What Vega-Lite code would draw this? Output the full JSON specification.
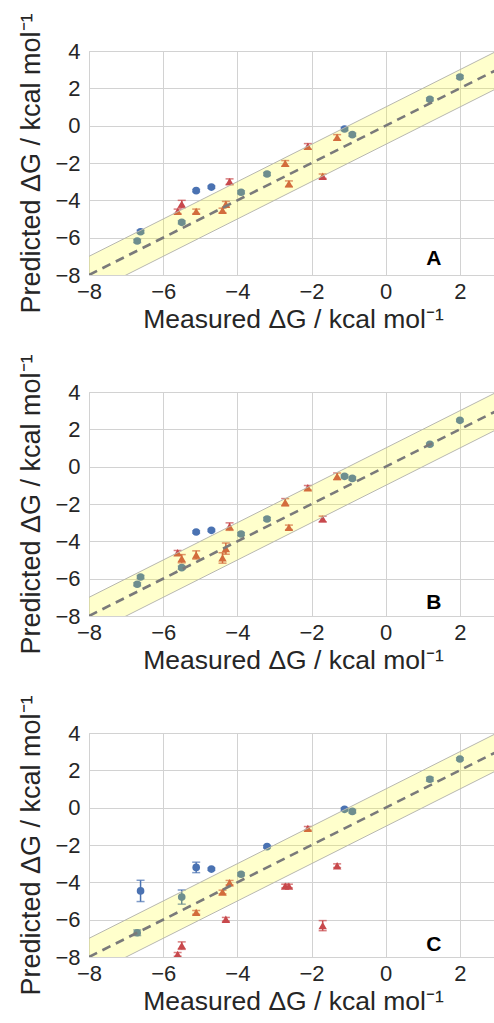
{
  "$schema": "https://vega.github.io/schema/vega-lite/v6.json",
  "background": "white",
  "padding": {"left": 17, "top": 12, "right": 0, "bottom": 2},
  "bounds": "flush",
  "spacing": 117,
  "config": {
    "font": "Liberation Sans",
    "view": {"stroke": "#cfcfcf", "strokeWidth": 1},
    "axis": {
      "grid": true, "gridColor": "#d2d2d2", "gridWidth": 1,
      "domain": false, "ticks": false, "labelOverlap": false, "labelFlush": false, "labelBound": false,
      "labelFontSize": 22, "labelColor": "#262626", "labelFont": "Liberation Sans",
      "titleFontWeight": "normal", "titleColor": "#262626", "titleFont": "Liberation Sans"
    },
    "axisX": {"labelPadding": 6, "titlePadding": 4, "titleFontSize": 26.5, "tickCount": 6},
    "axisY": {"labelPadding": 9, "titlePadding": 9, "titleFontSize": 27, "tickCount": 7}
  },
  "datasets": {
    "band": [
      {"x": -8, "lo": -9, "mid": -8, "hi": -7},
      {"x": 3, "lo": 2, "mid": 3, "hi": 4}
    ],
    "pts": [
      {"panel": "A", "s": "blue", "x": -6.70, "y": -6.18, "e": 0.08},
      {"panel": "A", "s": "blue", "x": -6.61, "y": -5.68, "e": 0.08},
      {"panel": "A", "s": "blue", "x": -5.50, "y": -5.18, "e": 0.08},
      {"panel": "A", "s": "blue", "x": -5.11, "y": -3.48, "e": 0.06},
      {"panel": "A", "s": "blue", "x": -4.70, "y": -3.29, "e": 0.06},
      {"panel": "A", "s": "blue", "x": -3.90, "y": -3.57, "e": 0.08},
      {"panel": "A", "s": "blue", "x": -3.20, "y": -2.59, "e": 0.08},
      {"panel": "A", "s": "blue", "x": -1.11, "y": -0.18, "e": 0.08},
      {"panel": "A", "s": "blue", "x": -0.90, "y": -0.48, "e": 0.08},
      {"panel": "A", "s": "blue", "x": 1.19, "y": 1.41, "e": 0.08},
      {"panel": "A", "s": "blue", "x": 2.00, "y": 2.61, "e": 0.08},
      {"panel": "A", "s": "red", "x": -5.61, "y": -4.59, "e": 0.12},
      {"panel": "A", "s": "red", "x": -5.50, "y": -4.20, "e": 0.2},
      {"panel": "A", "s": "red", "x": -5.11, "y": -4.59, "e": 0.12},
      {"panel": "A", "s": "red", "x": -4.40, "y": -4.54, "e": 0.12},
      {"panel": "A", "s": "red", "x": -4.31, "y": -4.21, "e": 0.15},
      {"panel": "A", "s": "red", "x": -4.21, "y": -3.00, "e": 0.15},
      {"panel": "A", "s": "red", "x": -2.71, "y": -2.02, "e": 0.15},
      {"panel": "A", "s": "red", "x": -2.61, "y": -3.11, "e": 0.15},
      {"panel": "A", "s": "red", "x": -2.10, "y": -1.11, "e": 0.15},
      {"panel": "A", "s": "red", "x": -1.70, "y": -2.71, "e": 0.12},
      {"panel": "A", "s": "red", "x": -1.31, "y": -0.63, "e": 0.15},
      {"panel": "B", "s": "blue", "x": -6.70, "y": -6.30, "e": 0.08},
      {"panel": "B", "s": "blue", "x": -6.61, "y": -5.91, "e": 0.08},
      {"panel": "B", "s": "blue", "x": -5.50, "y": -5.41, "e": 0.08},
      {"panel": "B", "s": "blue", "x": -5.11, "y": -3.50, "e": 0.06},
      {"panel": "B", "s": "blue", "x": -4.70, "y": -3.41, "e": 0.06},
      {"panel": "B", "s": "blue", "x": -3.90, "y": -3.61, "e": 0.08},
      {"panel": "B", "s": "blue", "x": -3.20, "y": -2.80, "e": 0.08},
      {"panel": "B", "s": "blue", "x": -1.11, "y": -0.52, "e": 0.08},
      {"panel": "B", "s": "blue", "x": -0.90, "y": -0.63, "e": 0.08},
      {"panel": "B", "s": "blue", "x": 1.19, "y": 1.20, "e": 0.06},
      {"panel": "B", "s": "blue", "x": 2.00, "y": 2.48, "e": 0.06},
      {"panel": "B", "s": "red", "x": -5.61, "y": -4.61, "e": 0.12},
      {"panel": "B", "s": "red", "x": -5.50, "y": -4.93, "e": 0.22},
      {"panel": "B", "s": "red", "x": -5.11, "y": -4.73, "e": 0.22},
      {"panel": "B", "s": "red", "x": -4.40, "y": -4.89, "e": 0.28},
      {"panel": "B", "s": "red", "x": -4.31, "y": -4.39, "e": 0.3},
      {"panel": "B", "s": "red", "x": -4.21, "y": -3.21, "e": 0.2},
      {"panel": "B", "s": "red", "x": -2.71, "y": -1.91, "e": 0.2},
      {"panel": "B", "s": "red", "x": -2.61, "y": -3.25, "e": 0.12},
      {"panel": "B", "s": "red", "x": -2.10, "y": -1.13, "e": 0.12},
      {"panel": "B", "s": "red", "x": -1.70, "y": -2.80, "e": 0.15},
      {"panel": "B", "s": "red", "x": -1.31, "y": -0.52, "e": 0.18},
      {"panel": "C", "s": "blue", "x": -6.70, "y": -6.70, "e": 0.15},
      {"panel": "C", "s": "blue", "x": -6.61, "y": -4.46, "e": 0.57},
      {"panel": "C", "s": "blue", "x": -5.50, "y": -4.79, "e": 0.38},
      {"panel": "C", "s": "blue", "x": -5.11, "y": -3.20, "e": 0.28},
      {"panel": "C", "s": "blue", "x": -4.70, "y": -3.29, "e": 0.06},
      {"panel": "C", "s": "blue", "x": -3.90, "y": -3.57, "e": 0.08},
      {"panel": "C", "s": "blue", "x": -3.20, "y": -2.09, "e": 0.06},
      {"panel": "C", "s": "blue", "x": -1.11, "y": -0.09, "e": 0.08},
      {"panel": "C", "s": "blue", "x": -0.90, "y": -0.20, "e": 0.08},
      {"panel": "C", "s": "blue", "x": 1.19, "y": 1.52, "e": 0.1},
      {"panel": "C", "s": "blue", "x": 2.00, "y": 2.61, "e": 0.06},
      {"panel": "C", "s": "red", "x": -5.61, "y": -7.86, "e": 0.1},
      {"panel": "C", "s": "red", "x": -5.50, "y": -7.39, "e": 0.2},
      {"panel": "C", "s": "red", "x": -5.11, "y": -5.61, "e": 0.1},
      {"panel": "C", "s": "red", "x": -4.40, "y": -4.52, "e": 0.1},
      {"panel": "C", "s": "red", "x": -4.31, "y": -5.98, "e": 0.1},
      {"panel": "C", "s": "red", "x": -4.21, "y": -4.02, "e": 0.12},
      {"panel": "C", "s": "red", "x": -2.71, "y": -4.20, "e": 0.1},
      {"panel": "C", "s": "red", "x": -2.61, "y": -4.20, "e": 0.1},
      {"panel": "C", "s": "red", "x": -2.10, "y": -1.11, "e": 0.1},
      {"panel": "C", "s": "red", "x": -1.70, "y": -6.32, "e": 0.27},
      {"panel": "C", "s": "red", "x": -1.31, "y": -3.11, "e": 0.1}
    ]
  },
  "vconcat": [
    {
      "width": 408, "height": 224,
      "layer": [
        {
          "data": {"name": "pts"},
          "transform": [{"filter": "datum.panel === 'A'"}],
          "mark": {"type": "errorbar", "ticks": {"size": 8, "thickness": 1.5}, "thickness": 1.5, "clip": true},
          "encoding": {
            "x": {"field": "x", "type": "quantitative", "title": "Measured ΔG / kcal mol⁻¹", "scale": {"domain": [-8, 3], "nice": false}, "axis": {"values": [-8, -6, -4, -2, 0, 2], "labelOverlap": false}},
            "y": {"field": "y", "type": "quantitative", "title": "Predicted ΔG / kcal mol⁻¹", "scale": {"domain": [-8, 4], "nice": false}, "axis": {"values": [-8, -6, -4, -2, 0, 2, 4], "labelOverlap": false}},
            "yError": {"field": "e"},
            "color": {"field": "s", "type": "nominal", "scale": {"domain": ["blue", "red"], "range": ["#4a72b2", "#c8484c"]}, "legend": null}
          }
        },
        {
          "data": {"name": "pts"},
          "transform": [{"filter": "datum.panel === 'A'"}],
          "mark": {"type": "point", "filled": true, "opacity": 1, "clip": true},
          "encoding": {
            "x": {"field": "x", "type": "quantitative"},
            "y": {"field": "y", "type": "quantitative"},
            "color": {"field": "s", "type": "nominal", "legend": null},
            "size": {"field": "s", "type": "nominal", "scale": {"domain": ["blue", "red"], "range": [58, 72]}, "legend": null},
            "shape": {"field": "s", "type": "nominal", "scale": {"domain": ["blue", "red"], "range": ["circle", "triangle-up"]}, "legend": null}
          }
        },
        {
          "data": {"name": "band"},
          "mark": {"type": "area", "color": "#ffff00", "opacity": 0.2, "clip": true},
          "encoding": {"x": {"field": "x", "type": "quantitative"}, "y": {"field": "lo", "type": "quantitative"}, "y2": {"field": "hi"}}
        },
        {
          "data": {"name": "band"},
          "mark": {"type": "line", "color": "#b8b8b0", "strokeWidth": 1, "clip": true},
          "encoding": {"x": {"field": "x", "type": "quantitative"}, "y": {"field": "lo", "type": "quantitative"}}
        },
        {
          "data": {"name": "band"},
          "mark": {"type": "line", "color": "#b8b8b0", "strokeWidth": 1, "clip": true},
          "encoding": {"x": {"field": "x", "type": "quantitative"}, "y": {"field": "hi", "type": "quantitative"}}
        },
        {
          "data": {"name": "band"},
          "mark": {"type": "line", "color": "#7a7a7a", "strokeWidth": 2.6, "strokeDash": [9, 6], "clip": true},
          "encoding": {"x": {"field": "x", "type": "quantitative"}, "y": {"field": "mid", "type": "quantitative"}}
        },
        {
          "data": {"values": [{"label": "A"}]},
          "mark": {"type": "text", "fontSize": 21, "fontWeight": "bold", "color": "black", "align": "center", "baseline": "middle"},
          "encoding": {"text": {"field": "label"}, "x": {"datum": 1.3}, "y": {"datum": -7.15}}
        }
      ]
    },
    {
      "width": 408, "height": 224,
      "layer": [
        {
          "data": {"name": "pts"},
          "transform": [{"filter": "datum.panel === 'B'"}],
          "mark": {"type": "errorbar", "ticks": {"size": 8, "thickness": 1.5}, "thickness": 1.5, "clip": true},
          "encoding": {
            "x": {"field": "x", "type": "quantitative", "title": "Measured ΔG / kcal mol⁻¹", "scale": {"domain": [-8, 3], "nice": false}, "axis": {"values": [-8, -6, -4, -2, 0, 2], "labelOverlap": false}},
            "y": {"field": "y", "type": "quantitative", "title": "Predicted ΔG / kcal mol⁻¹", "scale": {"domain": [-8, 4], "nice": false}, "axis": {"values": [-8, -6, -4, -2, 0, 2, 4], "labelOverlap": false}},
            "yError": {"field": "e"},
            "color": {"field": "s", "type": "nominal", "scale": {"domain": ["blue", "red"], "range": ["#4a72b2", "#c8484c"]}, "legend": null}
          }
        },
        {
          "data": {"name": "pts"},
          "transform": [{"filter": "datum.panel === 'B'"}],
          "mark": {"type": "point", "filled": true, "opacity": 1, "clip": true},
          "encoding": {
            "x": {"field": "x", "type": "quantitative"},
            "y": {"field": "y", "type": "quantitative"},
            "color": {"field": "s", "type": "nominal", "legend": null},
            "size": {"field": "s", "type": "nominal", "scale": {"domain": ["blue", "red"], "range": [58, 72]}, "legend": null},
            "shape": {"field": "s", "type": "nominal", "scale": {"domain": ["blue", "red"], "range": ["circle", "triangle-up"]}, "legend": null}
          }
        },
        {
          "data": {"name": "band"},
          "mark": {"type": "area", "color": "#ffff00", "opacity": 0.2, "clip": true},
          "encoding": {"x": {"field": "x", "type": "quantitative"}, "y": {"field": "lo", "type": "quantitative"}, "y2": {"field": "hi"}}
        },
        {
          "data": {"name": "band"},
          "mark": {"type": "line", "color": "#b8b8b0", "strokeWidth": 1, "clip": true},
          "encoding": {"x": {"field": "x", "type": "quantitative"}, "y": {"field": "lo", "type": "quantitative"}}
        },
        {
          "data": {"name": "band"},
          "mark": {"type": "line", "color": "#b8b8b0", "strokeWidth": 1, "clip": true},
          "encoding": {"x": {"field": "x", "type": "quantitative"}, "y": {"field": "hi", "type": "quantitative"}}
        },
        {
          "data": {"name": "band"},
          "mark": {"type": "line", "color": "#7a7a7a", "strokeWidth": 2.6, "strokeDash": [9, 6], "clip": true},
          "encoding": {"x": {"field": "x", "type": "quantitative"}, "y": {"field": "mid", "type": "quantitative"}}
        },
        {
          "data": {"values": [{"label": "B"}]},
          "mark": {"type": "text", "fontSize": 21, "fontWeight": "bold", "color": "black", "align": "center", "baseline": "middle"},
          "encoding": {"text": {"field": "label"}, "x": {"datum": 1.3}, "y": {"datum": -7.3}}
        }
      ]
    },
    {
      "width": 408, "height": 224,
      "layer": [
        {
          "data": {"name": "pts"},
          "transform": [{"filter": "datum.panel === 'C'"}],
          "mark": {"type": "errorbar", "ticks": {"size": 8, "thickness": 1.5}, "thickness": 1.5, "clip": true},
          "encoding": {
            "x": {"field": "x", "type": "quantitative", "title": "Measured ΔG / kcal mol⁻¹", "scale": {"domain": [-8, 3], "nice": false}, "axis": {"values": [-8, -6, -4, -2, 0, 2], "labelOverlap": false}},
            "y": {"field": "y", "type": "quantitative", "title": "Predicted ΔG / kcal mol⁻¹", "scale": {"domain": [-8, 4], "nice": false}, "axis": {"values": [-8, -6, -4, -2, 0, 2, 4], "labelOverlap": false}},
            "yError": {"field": "e"},
            "color": {"field": "s", "type": "nominal", "scale": {"domain": ["blue", "red"], "range": ["#4a72b2", "#c8484c"]}, "legend": null}
          }
        },
        {
          "data": {"name": "pts"},
          "transform": [{"filter": "datum.panel === 'C'"}],
          "mark": {"type": "point", "filled": true, "opacity": 1, "clip": true},
          "encoding": {
            "x": {"field": "x", "type": "quantitative"},
            "y": {"field": "y", "type": "quantitative"},
            "color": {"field": "s", "type": "nominal", "legend": null},
            "size": {"field": "s", "type": "nominal", "scale": {"domain": ["blue", "red"], "range": [58, 72]}, "legend": null},
            "shape": {"field": "s", "type": "nominal", "scale": {"domain": ["blue", "red"], "range": ["circle", "triangle-up"]}, "legend": null}
          }
        },
        {
          "data": {"name": "band"},
          "mark": {"type": "area", "color": "#ffff00", "opacity": 0.2, "clip": true},
          "encoding": {"x": {"field": "x", "type": "quantitative"}, "y": {"field": "lo", "type": "quantitative"}, "y2": {"field": "hi"}}
        },
        {
          "data": {"name": "band"},
          "mark": {"type": "line", "color": "#b8b8b0", "strokeWidth": 1, "clip": true},
          "encoding": {"x": {"field": "x", "type": "quantitative"}, "y": {"field": "lo", "type": "quantitative"}}
        },
        {
          "data": {"name": "band"},
          "mark": {"type": "line", "color": "#b8b8b0", "strokeWidth": 1, "clip": true},
          "encoding": {"x": {"field": "x", "type": "quantitative"}, "y": {"field": "hi", "type": "quantitative"}}
        },
        {
          "data": {"name": "band"},
          "mark": {"type": "line", "color": "#7a7a7a", "strokeWidth": 2.6, "strokeDash": [9, 6], "clip": true},
          "encoding": {"x": {"field": "x", "type": "quantitative"}, "y": {"field": "mid", "type": "quantitative"}}
        },
        {
          "data": {"values": [{"label": "C"}]},
          "mark": {"type": "text", "fontSize": 21, "fontWeight": "bold", "color": "black", "align": "center", "baseline": "middle"},
          "encoding": {"text": {"field": "label"}, "x": {"datum": 1.3}, "y": {"datum": -7.35}}
        }
      ]
    }
  ]
}
